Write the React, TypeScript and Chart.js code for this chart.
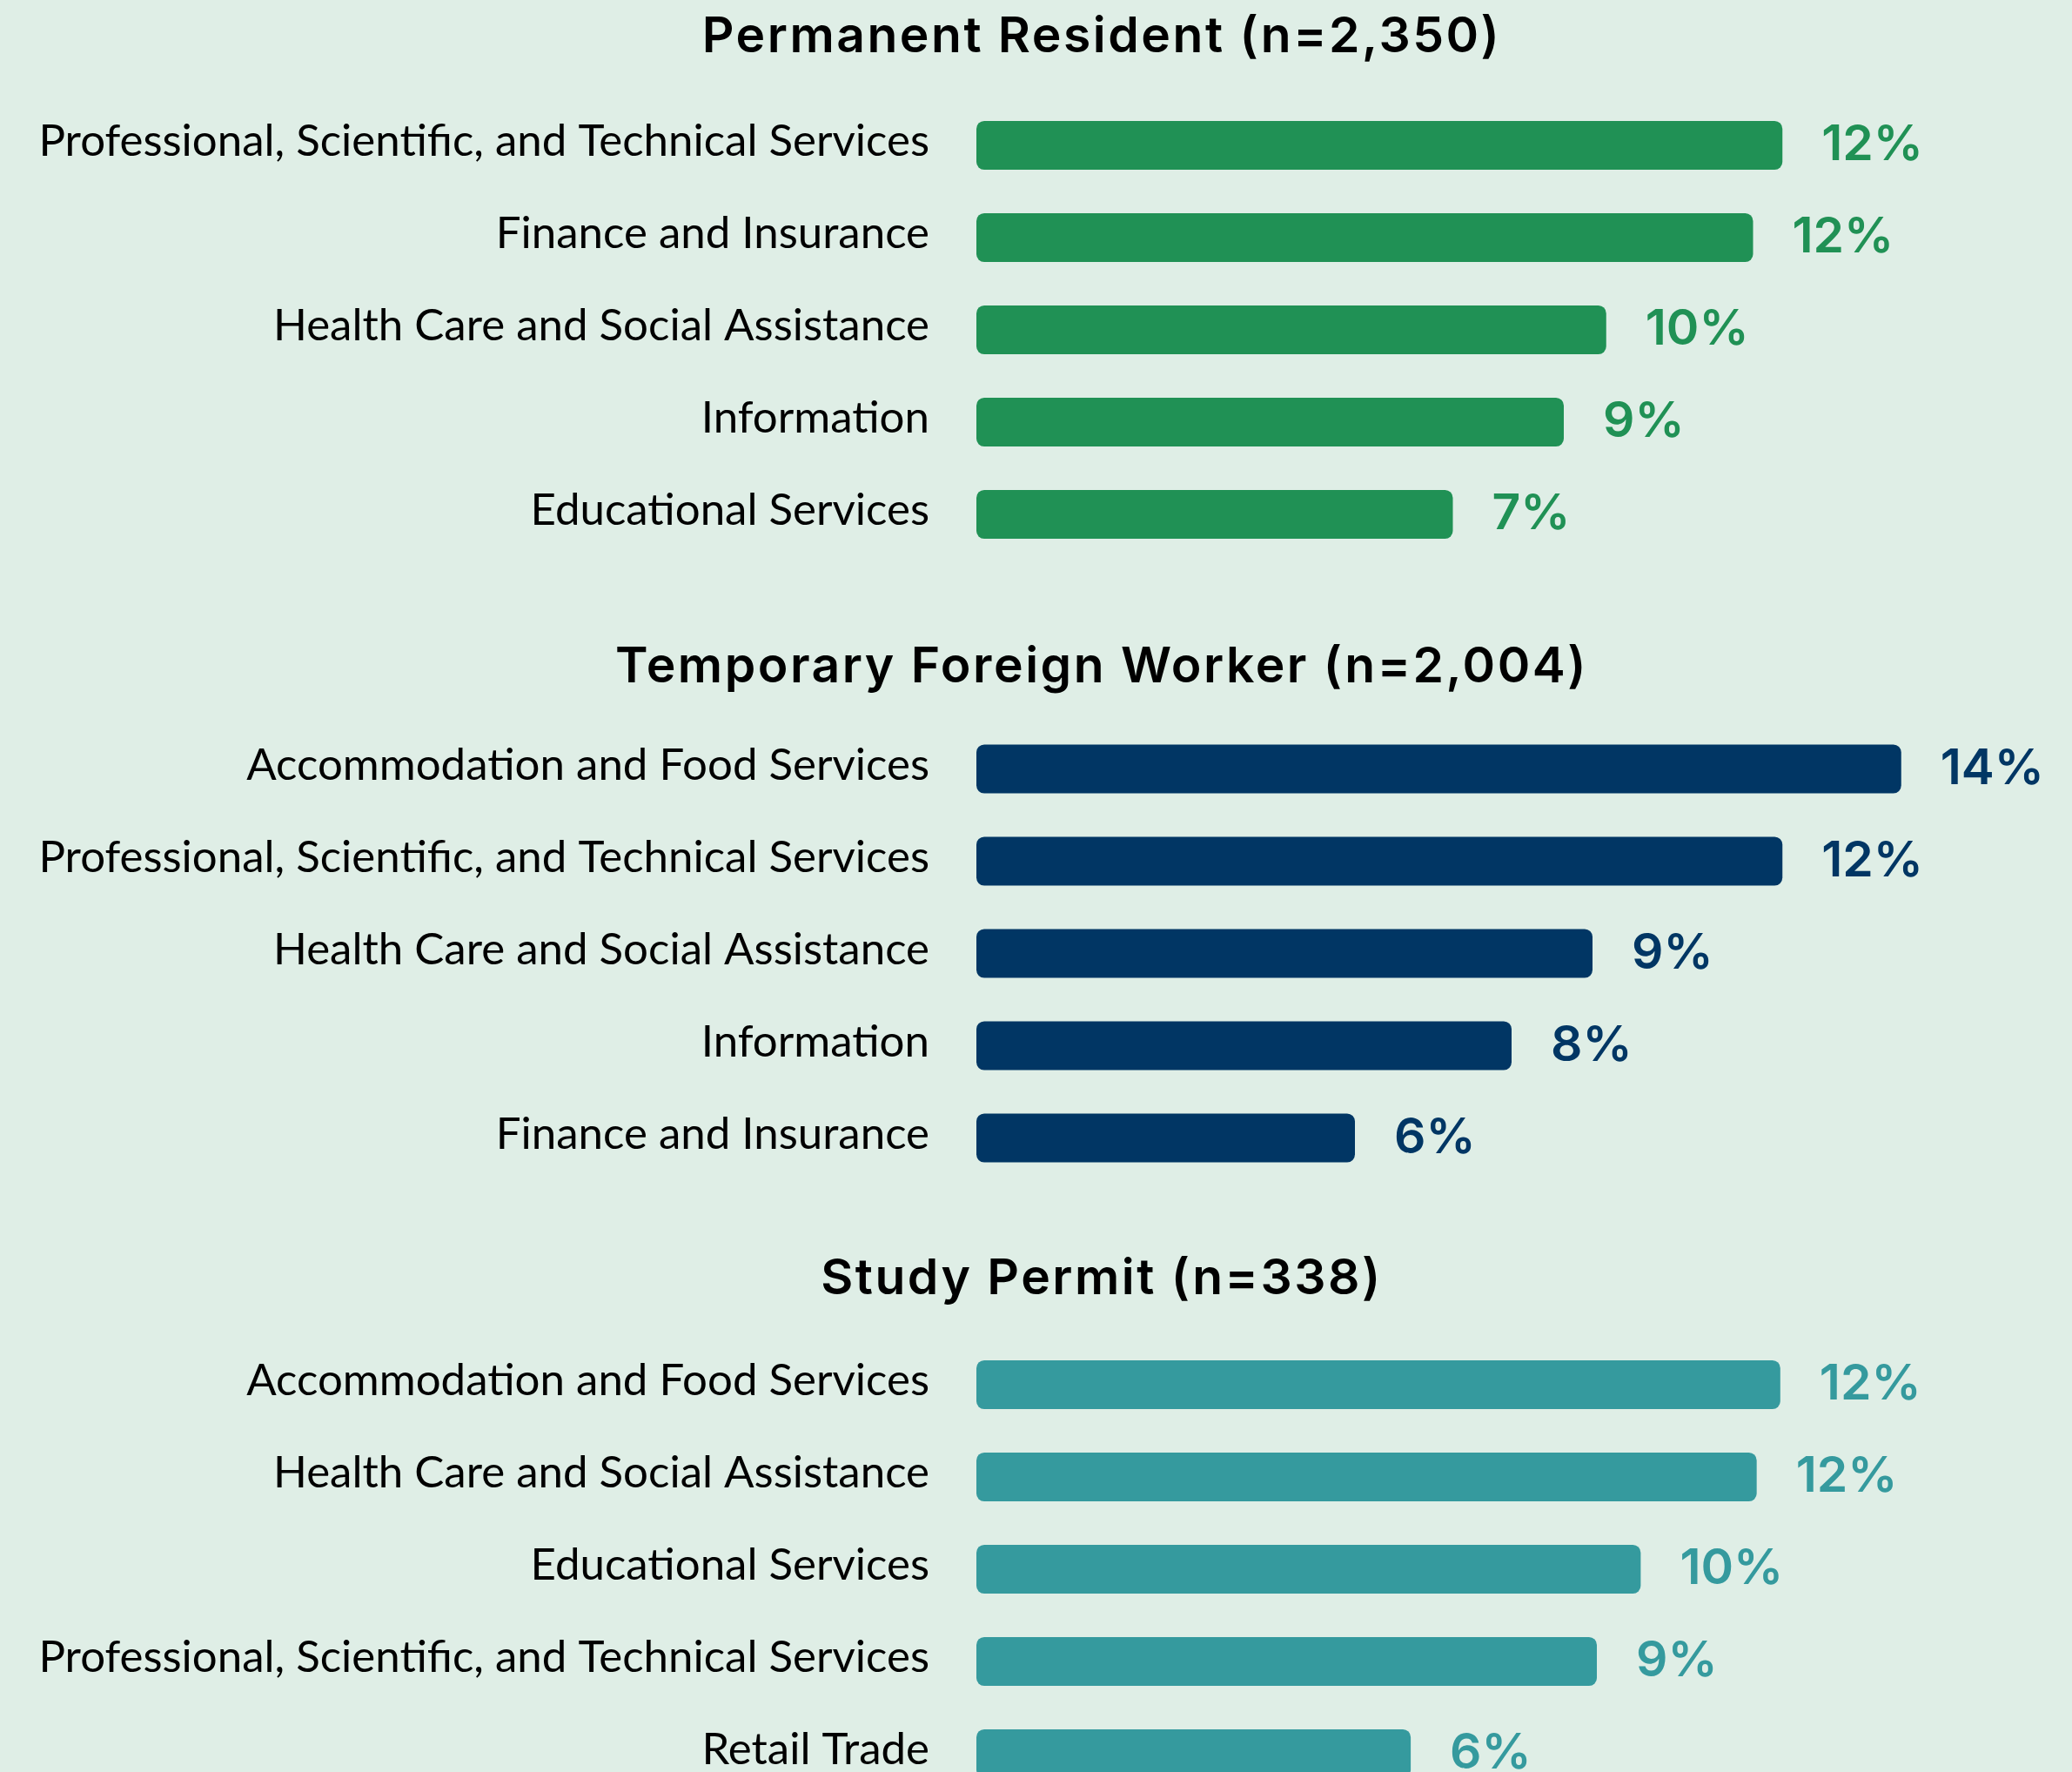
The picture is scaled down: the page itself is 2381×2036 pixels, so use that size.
import React, { useEffect, useRef } from "react";
import { Chart, registerables } from "chart.js";

Chart.register(...registerables);

// ---- data ----
const prTitle = "Permanent Resident (n=2,350)";
const prCategories = [
  "Professional, Scientific, and Technical Services",
  "Finance and Insurance",
  "Health Care and Social Assistance",
  "Information",
  "Educational Services",
];
const prValues = [12.35, 11.9, 9.65, 9.0, 7.3];

const tfwTitle = "Temporary Foreign Worker (n=2,004)";
const tfwCategories = [
  "Accommodation and Food Services",
  "Professional, Scientific, and Technical Services",
  "Health Care and Social Assistance",
  "Information",
  "Finance and Insurance",
];
const tfwValues = [14.17, 12.35, 9.44, 8.2, 5.8];

const spTitle = "Study Permit (n=338)";
const spCategories = [
  "Accommodation and Food Services",
  "Health Care and Social Assistance",
  "Educational Services",
  "Professional, Scientific, and Technical Services",
  "Retail Trade",
];
const spValues = [11.92, 11.57, 9.85, 9.2, 6.44];

const xMax = 16;

// ---- styles / layout ----
const BG = "#dfeee6";
const W = 2381;
const H = 2036;
const LABEL_FONT = "Lato";
const VALUE_FONT = "Inter";
const CANVAS_H = 800;
const AREA_H = 530;

type Panel = {
  title: string;
  categories: string[];
  values: number[];
  color: string;
  top: number;
  titleBaseline: number;
  padTop: number;
  padRight: number;
};

const panels: Panel[] = [
  {
    title: prTitle,
    categories: prCategories,
    values: prValues,
    color: "#209155",
    top: 0,
    titleBaseline: 60,
    padTop: 114,
    padRight: 59,
  },
  {
    title: tfwTitle,
    categories: tfwCategories,
    values: tfwValues,
    color: "#013664",
    top: 700,
    titleBaseline: 84,
    padTop: 130.5,
    padRight: 59,
  },
  {
    title: spTitle,
    categories: spCategories,
    values: spValues,
    color: "#359a9e",
    top: 1400,
    titleBaseline: 87,
    padTop: 138,
    padRight: 19,
  },
];

const panelPlugin = {
  id: "panelDecor",
  afterDatasetsDraw(chart: any, _args: any, opts: any) {
    const ctx = chart.ctx;
    ctx.save();
    // title
    ctx.font = `600 57px ${VALUE_FONT}`;
    ctx.fillStyle = "#000000";
    ctx.textAlign = "center";
    ctx.textBaseline = "alphabetic";
    (ctx as any).letterSpacing = "2.5px";
    ctx.fillText(opts.title, 1266, opts.titleBaseline);
    (ctx as any).letterSpacing = "0px";
    // value labels
    const meta = chart.getDatasetMeta(0);
    const data = chart.data.datasets[0].data as number[];
    ctx.font = `600 57px ${VALUE_FONT}`;
    ctx.fillStyle = opts.color;
    ctx.textAlign = "left";
    ctx.textBaseline = "middle";
    meta.data.forEach((bar: any, i: number) => {
      ctx.fillText(`${Math.round(data[i])}%`, bar.x + 45, bar.y);
    });
    ctx.restore();
  },
};

function PanelChart({ p }: { p: Panel }) {
  const ref = useRef<HTMLCanvasElement | null>(null);
  useEffect(() => {
    if (!ref.current) return;
    const chart = new Chart(ref.current, {
      type: "bar",
      data: {
        labels: p.categories,
        datasets: [
          {
            data: p.values,
            backgroundColor: p.color,
            borderRadius: 9,
            borderSkipped: false,
            categoryPercentage: 1,
            barPercentage: 0.53,
          },
        ],
      },
      options: {
        indexAxis: "y",
        animation: false,
        responsive: false,
        maintainAspectRatio: false,
        devicePixelRatio: 1,
        layout: {
          padding: {
            top: p.padTop,
            bottom: CANVAS_H - p.padTop - AREA_H,
            left: 0,
            right: p.padRight,
          },
        },
        scales: {
          x: { display: false, min: 0, max: xMax },
          y: {
            grid: { display: false, drawTicks: false },
            border: { display: false },
            ticks: {
              padding: 54,
              labelOffset: -4,
              color: "#000000",
              font: { family: LABEL_FONT, size: 51 },
            },
            afterFit: (scale: any) => {
              scale.width = 1122;
            },
          },
        },
        plugins: {
          legend: { display: false },
          tooltip: { enabled: false },
          title: { display: false },
          panelDecor: {
            title: p.title,
            titleBaseline: p.titleBaseline,
            color: p.color,
          },
        } as any,
      },
      plugins: [panelPlugin],
    });
    return () => chart.destroy();
  }, [p]);
  return (
    <canvas
      ref={ref}
      width={W}
      height={CANVAS_H}
      style={{ position: "absolute", left: 0, top: p.top, width: W, height: CANVAS_H }}
    />
  );
}

export default function App() {
  return (
    <div
      style={{
        position: "absolute",
        left: 0,
        top: 0,
        width: W,
        height: H,
        overflow: "hidden",
        background: BG,
      }}
    >
      {panels.map((p, i) => (
        <PanelChart key={i} p={p} />
      ))}
    </div>
  );
}
